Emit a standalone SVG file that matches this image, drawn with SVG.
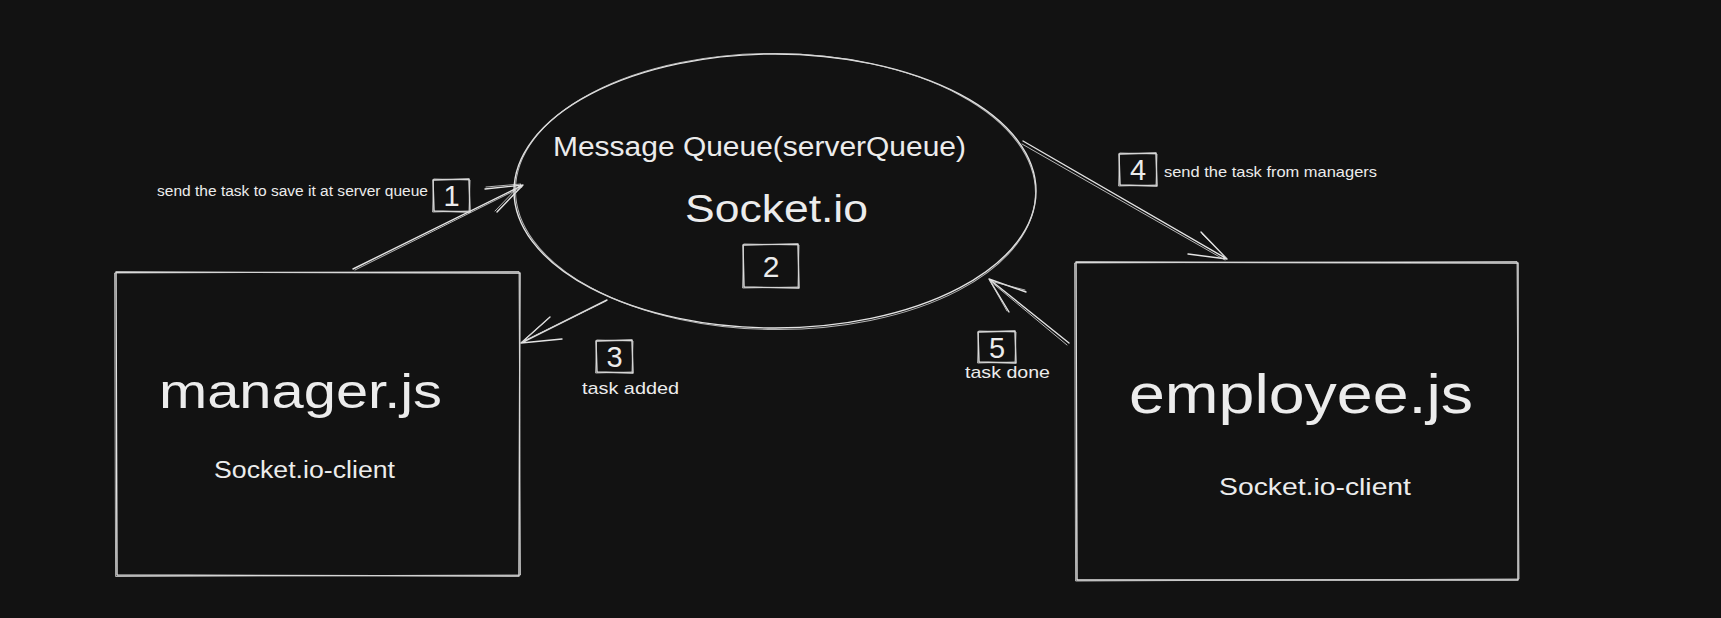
<svg xmlns="http://www.w3.org/2000/svg" width="1721" height="618" viewBox="0 0 1721 618">
  <style>
    .s{fill:none;stroke:#e4e4e4;stroke-width:1.4;stroke-linecap:round;stroke-linejoin:round}
    .s2{fill:none;stroke:#d0d0d0;stroke-width:1;stroke-linecap:round;stroke-linejoin:round;opacity:0.85}
    .t{fill:#ececec;font-family:"Liberation Sans","Open Sans",sans-serif}
    .n{fill:#ececec;font-family:"Liberation Sans","Open Sans",sans-serif;text-anchor:middle}
  </style>
  <rect width="1721" height="618" fill="#121212"/>

  <g id="connectors">
    <!-- 1: manager -> queue -->
    <path class="s" d="M353 269 L523 185 M485 189 L523 185 L497 212"/>
    <path class="s2" d="M355 270 L522 187 M486 187 L521 184 L495 211"/>
    <!-- 3: queue -> manager -->
    <path class="s" d="M607 300 L521 343 M550 317 L521 343 L562 339"/>
    <path class="s2" d="M606 301 L522 342 M549 318 L522 342"/>
    <!-- 4: queue -> employee -->
    <path class="s" d="M1023 141 L1227 259 M1201 232 L1227 259 L1188 254"/>
    <path class="s2" d="M1022 144 L1225 260 M1202 234 L1226 258"/>
    <!-- 5: employee -> queue -->
    <path class="s" d="M1069 343 L989 279 M1026 292 L989 279 L1009 312"/>
    <path class="s2" d="M1067 345 L990 281 M1025 290 L990 281 L1007 311"/>
  </g>

  <g id="node-queue">
    <ellipse class="s" cx="775" cy="191" rx="261" ry="137"/>
    <ellipse class="s2" cx="775.5" cy="191.5" rx="260" ry="138" transform="rotate(0.4 775 191)"/>
    <text class="t" x="553" y="156" font-size="27" textLength="413" lengthAdjust="spacingAndGlyphs">Message Queue(serverQueue)</text>
    <text class="t" x="685" y="222" font-size="38" textLength="183" lengthAdjust="spacingAndGlyphs">Socket.io</text>
  </g>

  <g id="node-manager">
    <path class="s" d="M116 272 L520 273 L519 576 L117 575 Z"/>
    <path class="s2" d="M115 273 L519 271.5 L520.5 575 L116 576.5 Z"/>
    <text class="t" x="159" y="408" font-size="48" textLength="283" lengthAdjust="spacingAndGlyphs">manager.js</text>
    <text class="t" x="214" y="478" font-size="23" textLength="181" lengthAdjust="spacingAndGlyphs">Socket.io-client</text>
  </g>

  <g id="node-employee">
    <path class="s" d="M1076 262 L1518 263 L1518 580 L1077 580 Z"/>
    <path class="s2" d="M1075 263 L1517 261.5 L1519 579 L1076 581 Z"/>
    <text class="t" x="1129" y="413" font-size="56" textLength="344" lengthAdjust="spacingAndGlyphs">employee.js</text>
    <text class="t" x="1219" y="495" font-size="24" textLength="192" lengthAdjust="spacingAndGlyphs">Socket.io-client</text>
  </g>

  <g id="step-1">
    <path class="s" d="M433 180 L469 179 L470 212 L434 211 Z"/>
    <path class="s2" d="M434 179 L470 180 L469 211 L433 212 Z"/>
    <text class="n" x="451.5" y="206" font-size="29">1</text>
    <text class="t" x="157" y="196" font-size="14" textLength="271" lengthAdjust="spacingAndGlyphs">send the task to save it at server queue</text>
  </g>

  <g id="step-2">
    <path class="s" d="M743 245 L798 244 L799 288 L744 287 Z"/>
    <path class="s2" d="M744 244 L799 245 L798 287 L743 288 Z"/>
    <text class="n" x="771" y="277" font-size="30">2</text>
  </g>

  <g id="step-3">
    <path class="s" d="M596 341 L632 340 L633 373 L597 372 Z"/>
    <path class="s2" d="M597 340 L633 341 L632 372 L596 373 Z"/>
    <text class="n" x="614.5" y="367" font-size="29">3</text>
    <text class="t" x="582" y="394" font-size="17" textLength="97" lengthAdjust="spacingAndGlyphs">task added</text>
  </g>

  <g id="step-4">
    <path class="s" d="M1119 154 L1156 153 L1157 186 L1120 185 Z"/>
    <path class="s2" d="M1120 153 L1157 154 L1156 185 L1119 186 Z"/>
    <text class="n" x="1138" y="180" font-size="29">4</text>
    <text class="t" x="1164" y="177" font-size="15" textLength="213" lengthAdjust="spacingAndGlyphs">send the task from managers</text>
  </g>

  <g id="step-5">
    <path class="s" d="M978 332 L1015 331 L1016 363 L979 362 Z"/>
    <path class="s2" d="M979 331 L1016 332 L1015 362 L978 363 Z"/>
    <text class="n" x="997" y="357.5" font-size="29">5</text>
    <text class="t" x="965" y="378" font-size="17" textLength="85" lengthAdjust="spacingAndGlyphs">task done</text>
  </g>
</svg>
